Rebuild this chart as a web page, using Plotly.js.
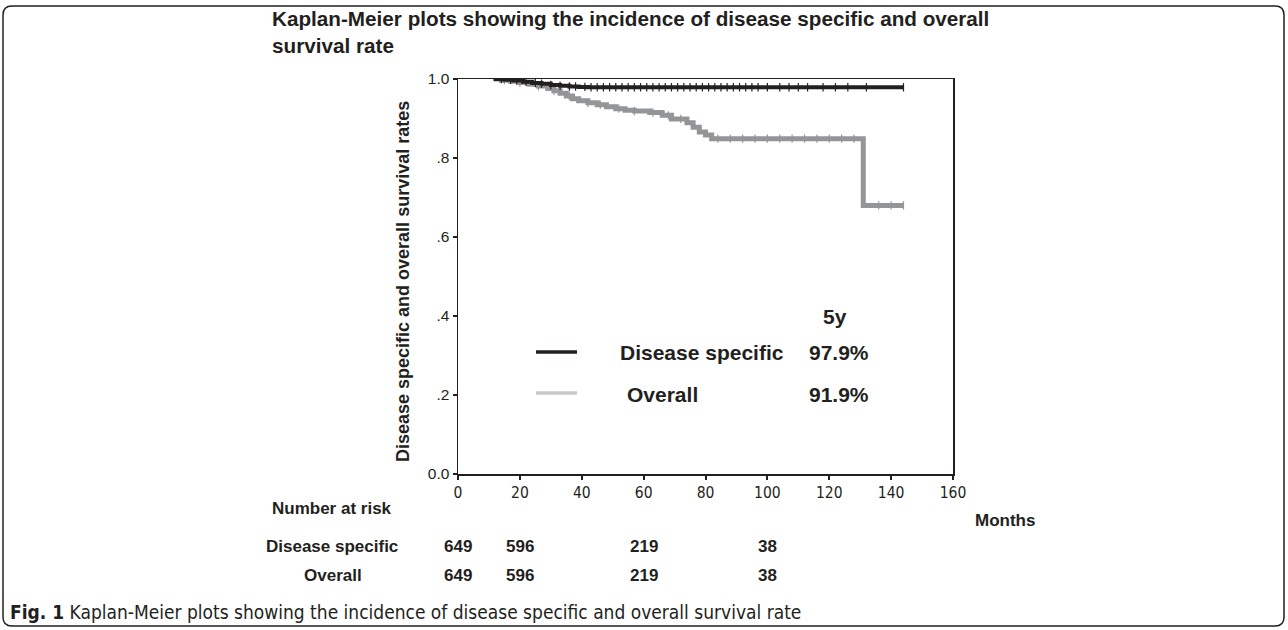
<!DOCTYPE html>
<html><head><meta charset="utf-8">
<script src="https://cdn.plot.ly/plotly-3.0.1.min.js"></script>
<style>html,body{margin:0;padding:0;background:#fff}#chart{width:1288px;height:630px}</style>
</head><body><div id="chart"></div>
<script>
// ---------- data ----------
const dsTime = [11.5, 15, 18, 21, 24, 27, 30, 33, 36, 39, 42, 144];
const dsSurv = [1.0, 0.998, 0.996, 0.993, 0.99, 0.988, 0.985, 0.983, 0.981, 0.98, 0.979, 0.979];
const osTime = [11.5, 14, 17, 20, 23, 26, 29, 31, 33, 35, 37, 39, 42, 45, 48, 51, 54, 57, 62, 66, 69, 74, 76, 78, 80, 82, 131, 144];
const osSurv = [1.0, 0.997, 0.994, 0.991, 0.987, 0.982, 0.976, 0.97, 0.964, 0.957, 0.95, 0.945, 0.94, 0.935, 0.93, 0.925, 0.921, 0.919, 0.915, 0.908, 0.899, 0.889, 0.878, 0.866, 0.858, 0.849, 0.68, 0.68];
const dsCensor = [14, 17, 19, 22, 25, 27, 30, 33, 36, 38, 41, 43, 45, 47, 49, 51, 53, 55, 57, 59, 61, 63, 65, 67, 69, 71, 73, 75, 77, 79, 81, 83, 85, 87, 89, 91, 93, 95, 97, 100, 104, 107, 110, 113, 118, 122, 126, 132, 144];
const osCensor = [15, 20, 26, 31, 36, 42, 46, 52, 57, 63, 68, 72, 84, 88, 92, 96, 100, 104, 108, 112, 116, 120, 124, 128, 136, 140, 144];
const xTickVals = [0, 20, 40, 60, 80, 100, 120, 140, 160];
const yTickVals = [0, 0.2, 0.4, 0.6, 0.8, 1.0];
const yTickText = ['0.0', '.2', '.4', '.6', '.8', '1.0'];
const riskTimes = [0, 20, 60, 100];
const riskDisease = [649, 596, 219, 38];
const riskOverall = [649, 596, 219, 38];
const seriesNames = ['Disease specific', 'Overall'];
const fiveYear = ['97.9%', '91.9%'];

// ---------- geometry helpers ----------
const L = 458, R = 953, T = 79, B = 474, W = 1288, H = 630;
const px = x => (x - L) / (R - L);
const py = y => (B - y) / (B - T);

const INK = '#231f20', GRAY = '#939598', LGRAY = '#c7c8ca';
const ARIAL = 'Liberation Sans, Arial, sans-serif';
const COND = 'DejaVu Sans Condensed, Liberation Sans, sans-serif';

function survAt(times, surv, t) {
  let s = surv[0];
  for (let i = 0; i < times.length; i++) if (times[i] <= t) s = surv[i];
  return s;
}

const traces = [
  {x: osTime, y: osSurv, mode: 'lines', line: {shape: 'hv', color: GRAY, width: 5}, name: seriesNames[1], showlegend: false},
  {x: osCensor, y: osCensor.map(t => survAt(osTime, osSurv, t)), mode: 'markers',
   marker: {symbol: 'line-ns', size: 6, line: {color: GRAY, width: 1.2}}, showlegend: false, hoverinfo: 'skip'},
  {x: dsTime, y: dsSurv, mode: 'lines', line: {shape: 'hv', color: INK, width: 4}, name: seriesNames[0], showlegend: false},
  {x: dsCensor, y: dsCensor.map(t => survAt(dsTime, dsSurv, t)), mode: 'markers',
   marker: {symbol: 'line-ns', size: 6, line: {color: INK, width: 1.2}}, showlegend: false, hoverinfo: 'skip'}
];

const ann = [];
function txt(text, x, y, opts) {
  ann.push(Object.assign({text: text, x: x, y: y, xref: 'paper', yref: 'paper', showarrow: false,
    font: {family: ARIAL, size: 21, color: INK}}, opts || {}));
}
// in-plot legend
txt('<b>5y</b>', px(835), py(316), {xanchor: 'center', yanchor: 'middle'});
txt('<b>' + seriesNames[0] + '</b>', px(618), py(353), {xanchor: 'left', yanchor: 'middle'});
txt('<b>' + fiveYear[0] + '</b>', px(807), py(353), {xanchor: 'left', yanchor: 'middle'});
txt('<b>' + seriesNames[1] + '</b>', px(625), py(394), {xanchor: 'left', yanchor: 'middle'});
txt('<b>' + fiveYear[1] + '</b>', px(807), py(394), {xanchor: 'left', yanchor: 'middle'});
// y axis title
txt('<b>Disease specific and overall survival rates</b>', px(403), py(282),
  {textangle: -90, xanchor: 'center', yanchor: 'middle', font: {family: ARIAL, size: 18, color: INK}});
// Months
const tf = {family: ARIAL, size: 17, color: INK};
txt('<b>Months</b>', px(1005), py(520), {xanchor: 'center', yanchor: 'middle', font: tf});
// number at risk table
txt('<b>Number at risk</b>', px(332), py(508), {xanchor: 'center', yanchor: 'middle', font: tf});
txt('<b>' + seriesNames[0] + '</b>', px(332), py(546), {xanchor: 'center', yanchor: 'middle', font: tf});
txt('<b>' + seriesNames[1] + '</b>', px(333), py(575), {xanchor: 'center', yanchor: 'middle', font: tf});
riskTimes.forEach((t, i) => {
  ann.push({text: '<b>' + riskDisease[i] + '</b>', x: t, y: py(546), xref: 'x', yref: 'paper', showarrow: false,
    xanchor: 'center', yanchor: 'middle', font: tf});
  ann.push({text: '<b>' + riskOverall[i] + '</b>', x: t, y: py(575), xref: 'x', yref: 'paper', showarrow: false,
    xanchor: 'center', yanchor: 'middle', font: tf});
});
// caption
txt('<b>Fig. 1</b> Kaplan-Meier plots showing the incidence of disease specific and overall survival rate',
  px(8), py(612), {xanchor: 'left', yanchor: 'middle', font: {family: COND, size: 19, color: INK}});

// shapes: legend lines + rounded frame
const r = 9, x0 = 3, x1 = 1284, y0 = 6, y1 = 626;
const P = (x, y) => px(x) + ',' + py(y);
const frame = 'M' + P(x0 + r, y0) + ' L' + P(x1 - r, y0) + ' Q' + P(x1, y0) + ' ' + P(x1, y0 + r) +
  ' L' + P(x1, y1 - r) + ' Q' + P(x1, y1) + ' ' + P(x1 - r, y1) +
  ' L' + P(x0 + r, y1) + ' Q' + P(x0, y1) + ' ' + P(x0, y1 - r) +
  ' L' + P(x0, y0 + r) + ' Q' + P(x0, y0) + ' ' + P(x0 + r, y0) + ' Z';
const shapes = [
  {type: 'line', xref: 'paper', yref: 'paper', x0: px(536), x1: px(577), y0: py(352), y1: py(352), line: {color: INK, width: 3.5}},
  {type: 'line', xref: 'paper', yref: 'paper', x0: px(536), x1: px(577), y0: py(393), y1: py(393), line: {color: LGRAY, width: 3.5}},
  {type: 'path', xref: 'paper', yref: 'paper', path: frame, line: {color: INK, width: 1.5}}
];

const axisCommon = {showline: true, linecolor: INK, linewidth: 1.5, mirror: true, ticks: 'outside',
  ticklen: 4, tickwidth: 2, tickcolor: INK, showgrid: false, zeroline: false, fixedrange: true};

const layout = {
  width: W, height: H,
  margin: {l: L, r: W - R, t: T, b: H - B, pad: 0},
  paper_bgcolor: '#fff', plot_bgcolor: '#fff',
  title: {text: '<b>Kaplan-Meier plots showing the incidence of disease specific and overall<br>survival rate</b>',
    xref: 'container', yref: 'container', x: 272 / W, y: 1 - 26 / H, xanchor: 'left', yanchor: 'top',
    font: {family: ARIAL, size: 20.7, color: INK}},
  xaxis: Object.assign({}, axisCommon, {range: [0, 160], tickvals: xTickVals,
    tickfont: {family: COND, size: 15.5, color: INK}}),
  yaxis: Object.assign({}, axisCommon, {range: [0, 1], tickvals: yTickVals, ticktext: yTickText,
    tickfont: {family: ARIAL, size: 15.5, color: INK}}),
  annotations: ann,
  shapes: shapes,
  showlegend: false
};

Plotly.newPlot('chart', traces, layout, {displayModeBar: false, staticPlot: true});
</script>
</body></html>
